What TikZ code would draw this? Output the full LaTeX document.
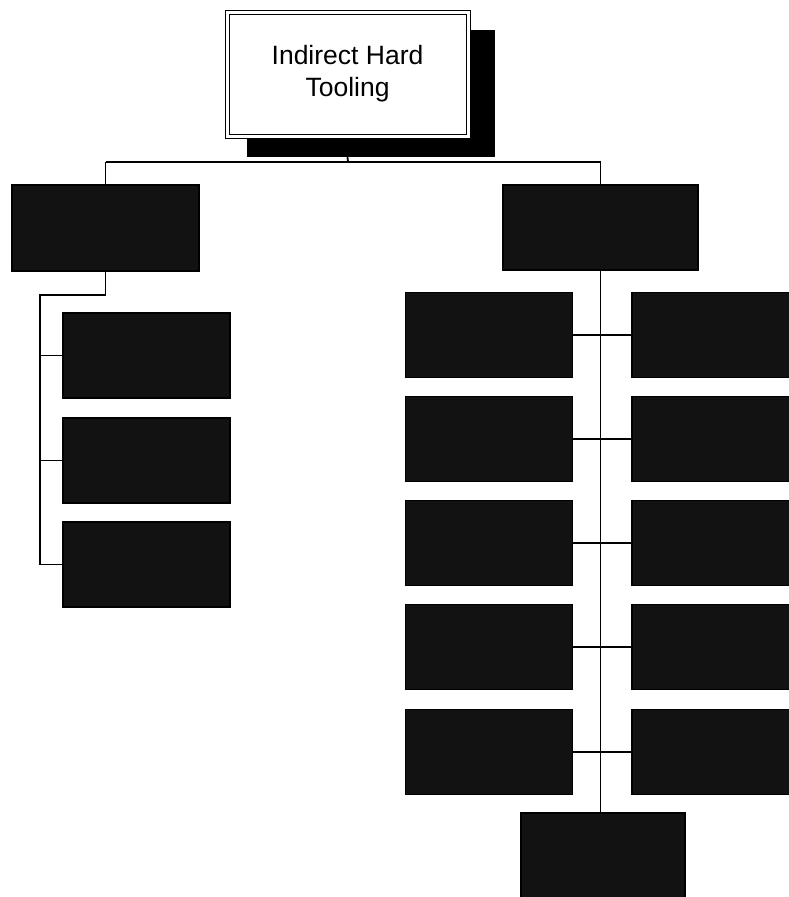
\documentclass[tikz,border=0pt]{standalone}
\usepackage{fontspec}
\setmainfont{Liberation Sans}
\usetikzlibrary{backgrounds}
\tikzset{
  darkbox/.style={draw=black, line width=1.6pt, fill=black!93, inner sep=0pt},
  topbox/.style={draw=black, line width=1pt, fill=white, inner sep=0pt,
    minimum width=245pt, minimum height=128pt},
  shadowbox/.style={fill=black, draw=none, inner sep=0pt,
    minimum width=248pt, minimum height=127pt},
  conn/.style={draw=black, line width=1.8pt},
  lbox/.style={darkbox, minimum width=187pt, minimum height=86pt},
  cbox/.style={darkbox, minimum width=167pt, minimum height=85pt}
}
\begin{document}
\begin{tikzpicture}[x=1pt, y=-1pt]
\useasboundingbox (0,0) rectangle (789,897);
\clip (0,0) rectangle (789,897);
% top node with shadow
\node[shadowbox] (sh) at (371,93.5) {};
\node[topbox] (top) at (347.5,74) {};
\node[draw=black, line width=1pt, inner sep=0pt, minimum width=237pt, minimum height=120pt,
  font=\fontsize{26.5}{32}\selectfont, align=center] (toptxt) at (347.5,74) {Indirect Hard\\Tooling};
\coordinate (j0) at (348,162);
% level 1
\node[lbox] (L) at (105.5,228) {};
\node[darkbox, minimum width=195pt, minimum height=85pt] (R) at (600.5,227.5) {};
% left children
\node[cbox] (c1) at (146.5,355.5) {};
\node[cbox] (c2) at (146.5,460.5) {};
\node[cbox] (c3) at (146.5,564.5) {};
\coordinate (lb) at (40,295);
% right children
\foreach \i/\y in {1/335,2/439,3/543,4/647,5/752}{
  \node[cbox] (a\i) at (489,\y) {};
  \node[darkbox, minimum width=200pt, minimum height=85pt] (b\i) at (732,\y) {};
}
\node[darkbox, minimum width=164pt, minimum height=85pt] (B) at (603,855.5) {};
\begin{scope}[on background layer]
  \draw[conn] (sh.south -| top.south) -- (j0);
  \draw[conn] (L.north |- j0) -- (R.north |- j0);
  \draw[conn] (L.north) -- (L.north |- j0);
  \draw[conn] (R.north) -- (R.north |- j0);
  \draw[conn] (L.south) |- (lb) |- (c3.west);
  \draw[conn] (lb |- c1.west) -- (c1.west);
  \draw[conn] (lb |- c2.west) -- (c2.west);
  \draw[conn] (R.south) -- (R.south |- B.north);
  \foreach \i in {1,...,5}{
    \draw[conn] (a\i.east) -- (b\i.west);
  }
\end{scope}
\end{tikzpicture}
\end{document}
